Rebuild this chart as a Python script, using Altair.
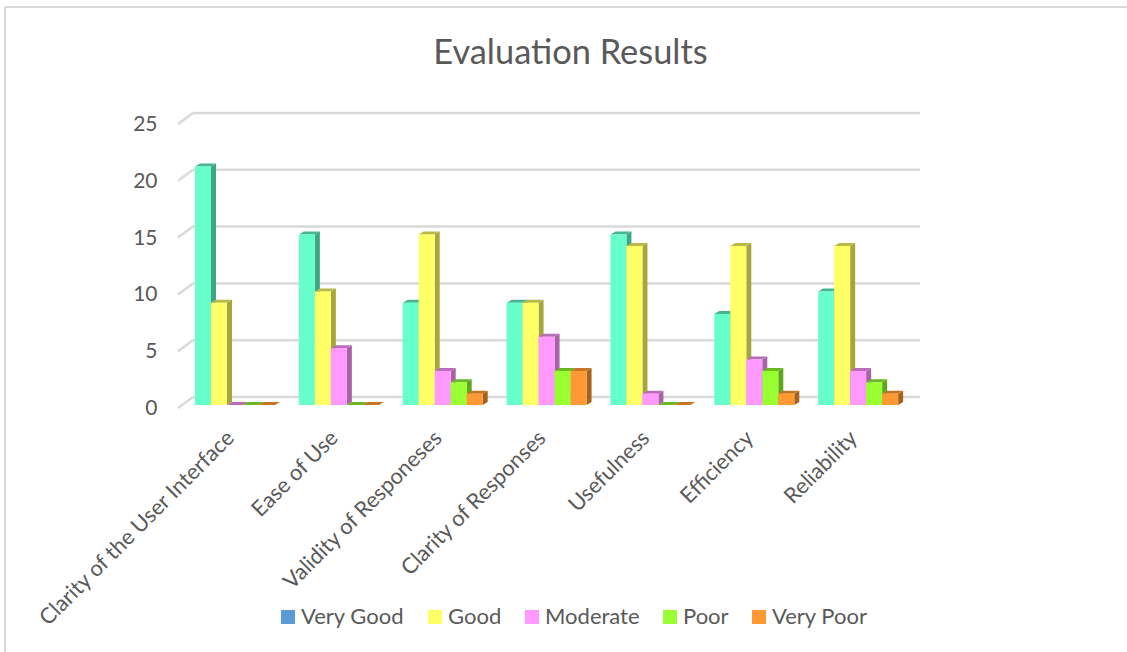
import json
import altair as alt
import pandas as pd

categories = ["Clarity of the User Interface", "Ease of Use", "Validity of Responeses",
              "Clarity of Responses", "Usefulness", "Efficiency", "Reliability"]
series = ["Very Good", "Good", "Moderate", "Poor", "Very Poor"]
values = {
    "Very Good": [21, 15, 9, 9, 15, 8, 10],
    "Good": [9, 10, 15, 9, 14, 14, 14],
    "Moderate": [0, 5, 3, 6, 1, 4, 3],
    "Poor": [0, 0, 2, 3, 0, 3, 2],
    "Very Poor": [0, 0, 1, 3, 0, 1, 1],
}
y_ticks = [0, 5, 10, 15, 20, 25]

front_colors = ["#66FFCC", "#FFFF66", "#FF99FF", "#99FF33", "#FF9933"]
side_colors = ["#3FA586", "#A6A63F", "#A663A6", "#5FA61F", "#A6631F"]
top_colors = ["#45B592", "#B8B846", "#B86DB8", "#69B822", "#C47526"]
legend_colors = ["#5B9BD5", "#FFFF66", "#FF99FF", "#99FF33", "#FF9933"]

FONT = "Lato"
TEXT = "#595959"
GRID = "#D9D9D9"

# Plot area and the scale of one unit on each axis, in pixels.
PLOT_W, PLOT_H = 727, 284
LEFT, TOP = 178, 121
X_UNIT = PLOT_W / len(categories)
Y_UNIT = PLOT_H / 25

# Oblique projection: bar depth, wall depth and bar layout along the axes.
bar_dx, bar_dy = 5 / X_UNIT, 3 / Y_UNIT
wall_dx, wall_dy = 15 / X_UNIT, 8 / Y_UNIT
floor_dy = 3 / Y_UNIT
bar_w = 16 / X_UNIT
group_start = 17 / X_UNIT

fronts, sides, tops = [], [], []
for c in range(len(categories)):
    for s, name in enumerate(series):
        v = values[name][c]
        x0 = c + group_start + s * bar_w
        x1 = x0 + bar_w
        bar = f"{c}-{s}"
        fronts.append(dict(x0=x0, x1=x1, v=v, fill=front_colors[s]))
        for x, lo, hi in [(x1, 0, v), (x1 + bar_dx, bar_dy, v + bar_dy)]:
            sides.append(dict(bar=bar, x=x, lo=lo, hi=hi, fill=side_colors[s]))
        for x, lo, hi in [(x0, v, v), (x0 + bar_dx, v, v + bar_dy),
                          (x1, v, v + bar_dy), (x1 + bar_dx, v + bar_dy, v + bar_dy)]:
            tops.append(dict(bar=bar, x=x, lo=lo, hi=hi, fill=top_colors[s]))

fronts, sides, tops = pd.DataFrame(fronts), pd.DataFrame(sides), pd.DataFrame(tops)
grid = pd.DataFrame({
    "v": y_ticks,
    "y_front": [t - floor_dy for t in y_ticks],
    "y_back": [t + wall_dy for t in y_ticks],
    "x_front": 0.0,
    "x_back": wall_dx,
    "x_end": len(categories) + wall_dx,
})
legend_data = pd.DataFrame({"series": series})

x_scale = alt.Scale(domain=[0, len(categories)], nice=False, zero=False)
y_scale = alt.Scale(domain=[0, 25], nice=False)

cat_js = json.dumps(categories)
x_axis = alt.Axis(
    values=[i + 0.5 for i in range(len(categories))],
    labelExpr=f"{cat_js}[datum.value - 0.5]",
    labelAngle=-45, labelAlign="right", labelBaseline="middle",
    labelFont=FONT, labelFontSize=21.8, labelColor=TEXT, labelPadding=29,
    labelLimit=400, labelOverlap=False, labelBound=False, labelFlush=False,
    domain=False, ticks=False, grid=False, title=None,
)
y_axis = alt.Axis(
    values=y_ticks, labelFont=FONT, labelFontSize=21, labelColor=TEXT,
    labelPadding=21, labelOffset=3.5, labelBound=False, labelFlush=False,
    domain=False, ticks=False, grid=False, title=None,
)

X_ENC = dict(scale=x_scale, axis=x_axis)
Y_ENC = dict(scale=y_scale, axis=y_axis, stack=None)

walls = alt.Chart(grid).mark_rule(color=GRID, strokeWidth=2.5).encode(
    x=alt.X("x_back:Q", **X_ENC),
    x2="x_end:Q",
    y=alt.Y("y_back:Q", **Y_ENC),
)
ticks = alt.Chart(grid).mark_rule(color=GRID, strokeWidth=2.5).encode(
    x=alt.X("x_front:Q", **X_ENC), x2="x_back:Q",
    y=alt.Y("y_front:Q", **Y_ENC), y2="y_back:Q",
)
frame_top = alt.Chart(legend_data).mark_rule(color=GRID, strokeWidth=2).encode(
    x=alt.value(5 - LEFT), x2=alt.value(1127 - LEFT), y=alt.value(7 - TOP),
)
frame_left = alt.Chart(legend_data).mark_rule(color=GRID, strokeWidth=2).encode(
    x=alt.value(5 - LEFT), y=alt.value(7 - TOP), y2=alt.value(652 - TOP),
)


def faces(table):
    return alt.Chart(table).mark_area(interpolate="linear").encode(
        x=alt.X("x:Q", **X_ENC),
        y=alt.Y("lo:Q", **Y_ENC),
        y2="hi:Q",
        fill=alt.Fill("fill:N", scale=None),
        detail="bar:N",
    )


front_faces = alt.Chart(fronts).mark_bar().encode(
    x=alt.X("x0:Q", **X_ENC), x2="x1:Q",
    y=alt.Y("v:Q", **Y_ENC), y2=alt.datum(0),
    fill=alt.Fill("fill:N", scale=None),
)

# Zero-sized points that exist only to feed the colour legend.
legend_layer = alt.Chart(legend_data).mark_square(size=0).encode(
    x=alt.value(0), y=alt.value(0),
    color=alt.Color(
        "series:N",
        scale=alt.Scale(domain=series, range=legend_colors),
        sort=series,
        legend=alt.Legend(
            title=None, orient="none", legendX=99, legendY=485,
            direction="horizontal", columns=5, columnPadding=19,
            symbolType="square", symbolSize=196, symbolStrokeWidth=0,
            symbolOpacity=1, labelFont=FONT, labelFontSize=22, labelColor=TEXT,
            labelOffset=2, padding=0, labelLimit=300,
        ),
    ),
)

chart = alt.layer(
    walls, ticks, frame_top, frame_left, faces(sides), faces(tops), front_faces, legend_layer,
).properties(
    width=PLOT_W, height=PLOT_H,
    padding={"left": LEFT, "top": TOP, "right": 1127 - LEFT - PLOT_W, "bottom": 652 - TOP - PLOT_H},
    autosize=alt.AutoSizeParams(type="none"),
    background="white",
    title=alt.TitleParams(
        "Evaluation Results", font=FONT, fontSize=34.4, fontWeight="normal", color=TEXT,
        anchor="middle", dx=29, offset=0, dy=65,
    ),
).configure_view(stroke=None)

chart.save("out.html", embed_options={"renderer": "svg", "actions": False})
